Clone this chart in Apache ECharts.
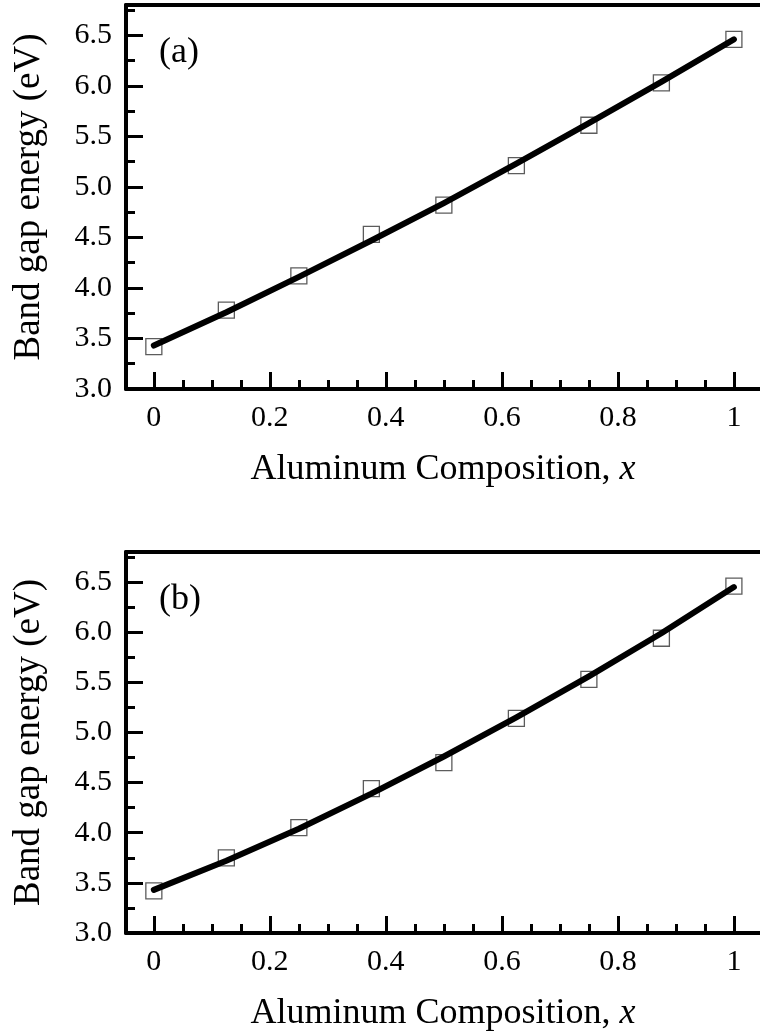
<!DOCTYPE html>
<html>
<head>
<meta charset="utf-8">
<script src="https://cdn.jsdelivr.net/npm/echarts@6/dist/echarts.min.js"></script>
<style>
  html, body { margin: 0; padding: 0; background: #fff; }
  #MyChart { width: 760px; height: 1033px; }
</style>
</head>
<body>
<div id="MyChart"></div>
<script>
// aluminum composition x of the calculated points
const xComp = [0, 0.125, 0.25, 0.375, 0.5, 0.625, 0.75, 0.875, 1];

// (a) calculated band gaps (squares) and fitted curve
const gapA = [3.42, 3.78, 4.12, 4.53, 4.82, 5.21, 5.61, 6.03, 6.46];
const fitA = [3.43, 3.76, 4.11, 4.47, 4.84, 5.23, 5.63, 6.04, 6.46];

// (b) calculated band gaps (squares) and fitted curve
const gapB = [3.42, 3.75, 4.05, 4.44, 4.70, 5.14, 5.53, 5.94, 6.46];
const fitB = [3.43, 3.72, 4.04, 4.39, 4.76, 5.15, 5.56, 5.99, 6.45];

// tick positions
const xMajorTicks = [0, 0.2, 0.4, 0.6, 0.8, 1];
const xMinorTicks = [0.05, 0.1, 0.15, 0.25, 0.3, 0.35, 0.45, 0.5, 0.55, 0.65, 0.7, 0.75, 0.85, 0.9, 0.95];
const yMajorTicks = [3.0, 3.5, 4.0, 4.5, 5.0, 5.5, 6.0, 6.5];
const yMinorTicks = [3.25, 3.75, 4.25, 4.75, 5.25, 5.75, 6.25, 6.75];

const panelLabels = ['(a)', '(b)'];

const FONT = '"Liberation Serif", "Times New Roman", serif';
const INK = '#000';

let myChart = echarts.init(document.getElementById('MyChart'));

let grids = [];
let xAxes = [];
let yAxes = [];
let series = [];
let titles = [];

function addPanel (i, top, gaps, fit) {
  grids.push({ left: 126, right: 0, top: top, height: 384 });
  // main bottom axis: line, major ticks, labels, title
  xAxes.push({
    gridIndex: i, type: 'value', position: 'bottom', min: -0.048, max: 1.045,
    name: '{n|Aluminum Composition, }{i|x}',
    nameLocation: 'middle', nameGap: 63,
    nameTextStyle: {
      rich: {
        n: { fontFamily: FONT, fontSize: 36, color: INK },
        i: { fontFamily: FONT, fontSize: 36, color: INK, fontStyle: 'italic' }
      }
    },
    axisLine: { show: true, onZero: false, lineStyle: { color: INK, width: 4 } },
    axisTick: { show: true, inside: true, length: 17, customValues: xMajorTicks, lineStyle: { color: INK, width: 3 } },
    axisLabel: { show: true, customValues: xMajorTicks, margin: 14, fontFamily: FONT, fontSize: 30, color: INK },
    splitLine: { show: false }
  });
  // minor ticks
  xAxes.push({
    gridIndex: i, type: 'value', position: 'bottom', min: -0.048, max: 1.045,
    axisLine: { show: false, onZero: false },
    axisTick: { show: true, inside: true, length: 9, customValues: xMinorTicks, lineStyle: { color: INK, width: 3 } },
    axisLabel: { show: false },
    splitLine: { show: false }
  });
  // top frame line
  xAxes.push({
    gridIndex: i, type: 'value', position: 'top', min: -0.048, max: 1.045,
    axisLine: { show: true, onZero: false, lineStyle: { color: INK, width: 4 } },
    axisTick: { show: false },
    axisLabel: { show: false },
    splitLine: { show: false }
  });
  yAxes.push({
    gridIndex: i, type: 'value', position: 'left', min: 3, max: 6.8,
    name: 'Band gap energy (eV)',
    nameLocation: 'middle', nameGap: 78,
    nameTextStyle: { fontFamily: FONT, fontSize: 37, color: INK },
    axisLine: { show: true, onZero: false, lineStyle: { color: INK, width: 4 } },
    axisTick: { show: true, inside: true, length: 17, customValues: yMajorTicks, lineStyle: { color: INK, width: 3 } },
    axisLabel: {
      show: true, customValues: yMajorTicks, margin: 14, fontFamily: FONT, fontSize: 30, color: INK,
      formatter: v => v.toFixed(1)
    },
    splitLine: { show: false }
  });
  yAxes.push({
    gridIndex: i, type: 'value', position: 'left', min: 3, max: 6.8,
    axisLine: { show: false, onZero: false },
    axisTick: { show: true, inside: true, length: 9, customValues: yMinorTicks, lineStyle: { color: INK, width: 3 } },
    axisLabel: { show: false },
    splitLine: { show: false }
  });
  // open squares
  series.push({
    type: 'scatter', xAxisIndex: i * 3, yAxisIndex: i * 2,
    symbol: 'rect', symbolSize: 16,
    itemStyle: { color: 'rgba(0,0,0,0)', borderColor: '#333', borderWidth: 1.3 },
    data: xComp.map((x, k) => [x, gaps[k]])
  });
  // fitted curve drawn over the squares
  series.push({
    type: 'line', xAxisIndex: i * 3, yAxisIndex: i * 2,
    showSymbol: false, smooth: false,
    lineStyle: { color: INK, width: 6, cap: 'round', join: 'round' },
    data: xComp.map((x, k) => [x, fit[k]])
  });
  titles.push({
    text: panelLabels[i], left: 154, top: top + 25,
    textStyle: { fontFamily: FONT, fontSize: 36, fontWeight: 'normal', color: INK }
  });
}

addPanel(0, 5, gapA, fitA);
addPanel(1, 552, gapB, fitB);

let option = {
  animation: false,
  title: titles,
  grid: grids,
  xAxis: xAxes,
  yAxis: yAxes,
  series: series
};
myChart.setOption(option);
</script>
</body>
</html>
